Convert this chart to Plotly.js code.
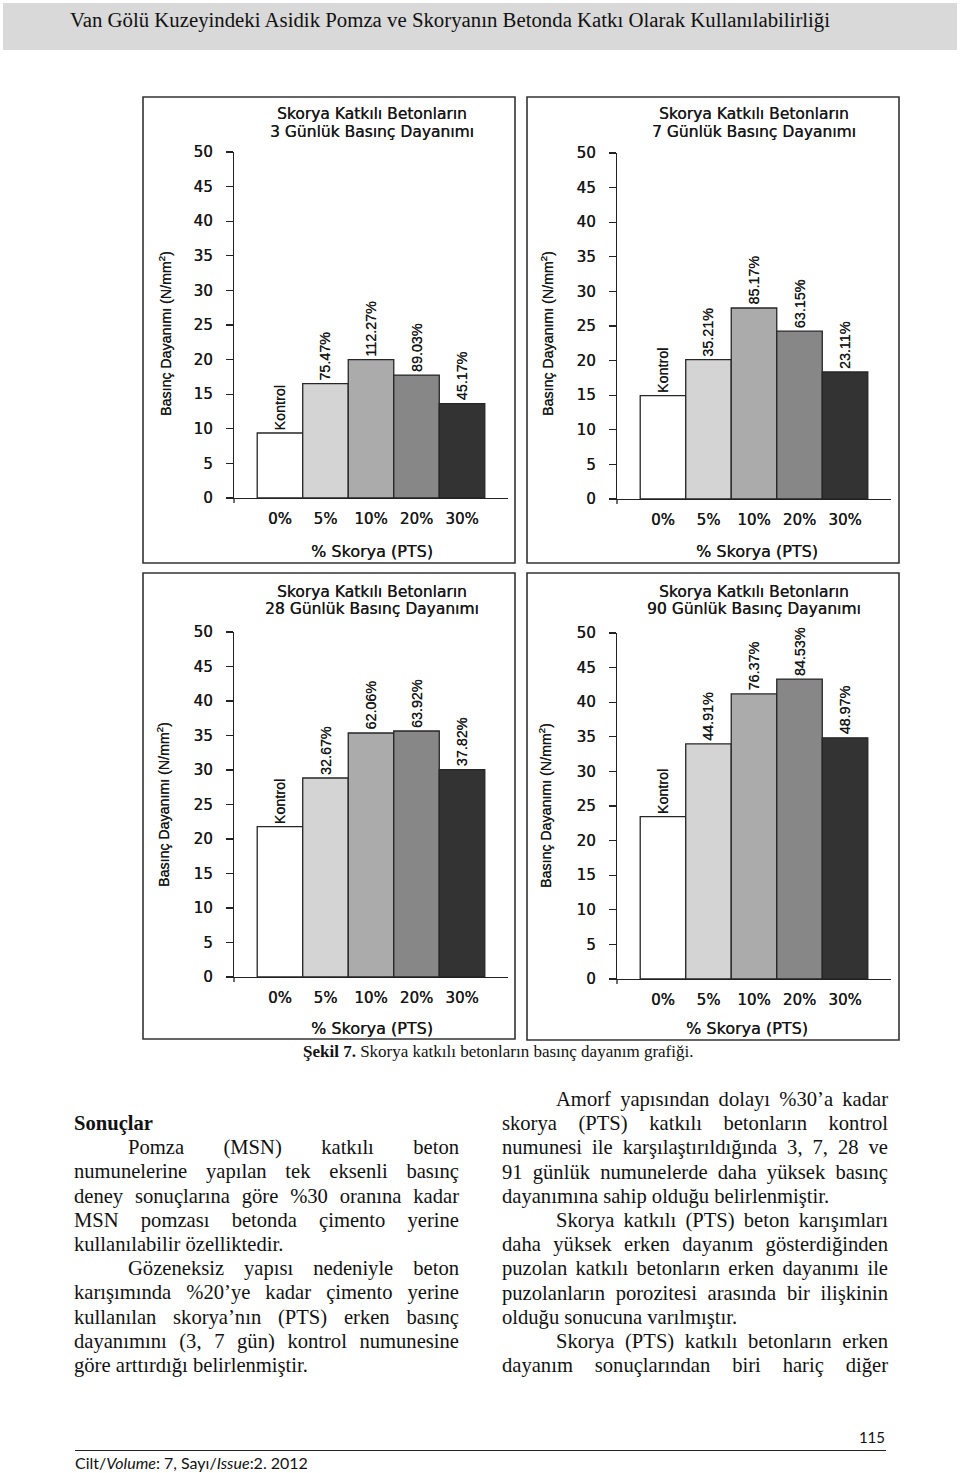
<!DOCTYPE html>
<html>
<head>
<meta charset="utf-8">
<script src="https://cdn.plot.ly/plotly-3.0.1.min.js"></script>
<style>
  html, body { margin:0; padding:0; background:#fff; }
  #page { position:relative; width:960px; height:1473px; overflow:hidden; background:#fff; }
  #plot { position:absolute; left:0; top:0; width:960px; height:1473px; }
  .abs { position:absolute; z-index:5; }
  .serif { font-family:"Liberation Serif","Times New Roman",serif; color:#111; }
  #header { left:3px; top:3px; width:954px; height:47px; background:#d9d9d9; z-index:1; }
  #headtext { left:0; top:7px; width:900px; text-align:center; font-size:20.8px; line-height:26px; }
  #caption { left:303px; top:1041px; font-size:17px; line-height:22px; white-space:nowrap; }
  .col { font-size:20.6px; line-height:24.2px; }
  .col div { white-space:nowrap; height:24.2px; }
  .col .j { text-align:justify; text-align-last:justify; white-space:normal; overflow:visible; }
  .col .ind { padding-left:54px; }
  #footer-num { right:75px; top:1428px; font-family:Lato,"Open Sans",sans-serif; font-size:15px; color:#111; }
  #footer-line { left:75px; top:1450px; width:811px; height:0; border-top:1.3px solid #222; }
  #footer-txt { left:75px; top:1453px; font-family:Lato,"Open Sans",sans-serif; font-size:16px; color:#111; white-space:nowrap; }
</style>
</head>
<body>
<div id="page">
  <div id="header" class="abs"></div>
  <div id="headtext" class="abs serif">Van Gölü Kuzeyindeki Asidik Pomza ve Skoryanın Betonda Katkı Olarak Kullanılabilirliği</div>
  <div id="plot"></div>
  <div id="caption" class="abs serif"><b>Şekil 7.</b> Skorya katkılı betonların basınç dayanım grafiği.</div>

  <div class="abs serif col" style="left:74px; top:1111px; width:385px;">
    <div><b>Sonuçlar</b></div>
    <div class="j ind">Pomza (MSN) katkılı beton</div>
    <div class="j">numunelerine yapılan tek eksenli basınç</div>
    <div class="j">deney sonuçlarına göre %30 oranına kadar</div>
    <div class="j">MSN pomzası betonda çimento yerine</div>
    <div>kullanılabilir özelliktedir.</div>
    <div class="j ind">Gözeneksiz yapısı nedeniyle beton</div>
    <div class="j">karışımında %20’ye kadar çimento yerine</div>
    <div class="j">kullanılan skorya’nın (PTS) erken basınç</div>
    <div class="j">dayanımını (3, 7 gün) kontrol numunesine</div>
    <div>göre arttırdığı belirlenmiştir.</div>
  </div>

  <div class="abs serif col" style="left:502px; top:1087px; width:386px;">
    <div class="j ind">Amorf yapısından dolayı %30’a kadar</div>
    <div class="j">skorya (PTS) katkılı betonların kontrol</div>
    <div class="j">numunesi ile karşılaştırıldığında 3, 7, 28 ve</div>
    <div class="j">91 günlük numunelerde daha yüksek basınç</div>
    <div>dayanımına sahip olduğu belirlenmiştir.</div>
    <div class="j ind">Skorya katkılı (PTS) beton karışımları</div>
    <div class="j">daha yüksek erken dayanım gösterdiğinden</div>
    <div class="j">puzolan katkılı betonların erken dayanımı ile</div>
    <div class="j">puzolanların porozitesi arasında bir ilişkinin</div>
    <div>olduğu sonucuna varılmıştır.</div>
    <div class="j ind">Skorya (PTS) katkılı betonların erken</div>
    <div class="j">dayanım sonuçlarından biri hariç diğer</div>
  </div>

  <div id="footer-num" class="abs">115</div>
  <div id="footer-line" class="abs"></div>
  <div id="footer-txt" class="abs">Cilt/<i>Volume</i>: 7, Sayı/<i>Issue</i>:2. 2012</div>
</div>

<script>
// ---------- data ----------
const categories = ['0%', '5%', '10%', '20%', '30%'];
const strength3  = [9.39, 16.52, 19.99, 17.77, 13.63];
const strength7  = [14.95, 20.13, 27.60, 24.25, 18.35];
const strength28 = [21.78, 28.84, 35.36, 35.65, 30.05];
const strength90 = [23.46, 33.98, 41.20, 43.34, 34.85];
const labels3  = ['Kontrol', '75.47%', '112.27%', '89.03%', '45.17%'];
const labels7  = ['Kontrol', '35.21%', '85.17%', '63.15%', '23.11%'];
const labels28 = ['Kontrol', '32.67%', '62.06%', '63.92%', '37.82%'];
const labels90 = ['Kontrol', '44.91%', '76.37%', '84.53%', '48.97%'];
const titleLine1 = 'Skorya Katkılı Betonların';
const titleLine2 = ['3 Günlük Basınç Dayanımı', '7 Günlük Basınç Dayanımı', '28 Günlük Basınç Dayanımı', '90 Günlük Basınç Dayanımı'];
const xTitle = '% Skorya (PTS)';
const yTitle = 'Basınç Dayanımı (N/mm<sup>2</sup>)';

// keep justified body lines on one line each
document.querySelectorAll('.col .j').forEach(el => {
  let ls = 0;
  while (el.scrollHeight > 30 && ls > -1.5) { ls -= 0.1; el.style.letterSpacing = ls.toFixed(2) + 'px'; }
});

// font detection for condensed rotated labels
function hasFont(name) {
  const c = document.createElement('canvas').getContext('2d');
  const s = '112.27% Kontrol Basınç Dayanımı';
  c.font = '40px monospace';
  const a = c.measureText(s).width;
  c.font = '40px "' + name + '", monospace';
  return Math.abs(c.measureText(s).width - a) > 0.5;
}
const hasNarrow = hasFont('Liberation Sans Narrow');

// ---------- layout helpers ----------
const W = 960, H = 1473;
const fx = p => p / W;
const fy = p => 1 - p / H;
const barColors = ['#ffffff', '#d4d4d4', '#ababab', '#878787', '#333333'];
const ink = '#151515';
const heavy = '0.3px 0 0 #333';
const wide = 'DejaVu Sans, Liberation Sans, Arial, sans-serif';
const labelFont = hasNarrow ? {family: 'Liberation Sans Narrow', size: 16.5, color: ink, shadow: heavy}
                            : {family: 'Liberation Sans, Arial, sans-serif', size: 14.3, color: ink, shadow: heavy};
const yTitleFont = hasNarrow ? {family: 'Liberation Sans Narrow', size: 17, color: ink, shadow: heavy}
                             : {family: 'Liberation Sans, Arial, sans-serif', size: 14.2, color: ink, shadow: heavy};
const tickFont = {size: 15, family: wide, color: ink, shadow: heavy};
const titleFont = {size: 15.5, family: wide, color: ink, shadow: heavy};
const xTitleFont = {size: 16, family: wide, color: ink, shadow: heavy};

const series = [strength3, strength7, strength28, strength90];
const labels = [labels3, labels7, labels28, labels90];

// panel geometry (pixels)
const panels = [
  {box:[143, 97, 515, 563],  xd:[234, 508], yd:[498, 152], t1:114, t2:132, tx:372, xt:[372, 551],  yt:[165, 334]},
  {box:[527, 97, 899, 563],  xd:[617, 891], yd:[499, 153], t1:114, t2:132, tx:754, xt:[757, 552],  yt:[547, 334]},
  {box:[143, 573, 515, 1039],xd:[234, 508], yd:[977, 632], t1:592, t2:609, tx:372, xt:[372, 1028], yt:[163, 805]},
  {box:[527, 573, 899, 1040],xd:[617, 891], yd:[979, 633], t1:592, t2:609, tx:754, xt:[747, 1028], yt:[545, 806]}
];

const data = [];
const layout = {
  width: W, height: H,
  margin: {l:0, r:0, t:0, b:0, pad:0},
  paper_bgcolor: 'rgba(0,0,0,0)',
  plot_bgcolor: 'rgba(0,0,0,0)',
  showlegend: false,
  bargap: 0,
  font: {family: wide, color: ink, size: 15},
  annotations: [],
  shapes: []
};

panels.forEach((p, i) => {
  const n = i === 0 ? '' : String(i + 1);
  const xa = 'x' + n, ya = 'y' + n;
  data.push({
    type: 'bar',
    x: categories.map((c, k) => k),
    y: series[i],
    width: 1,
    xaxis: xa, yaxis: ya,
    marker: {color: barColors, line: {color: '#262626', width: 1.3}},
    hoverinfo: 'skip',
    cliponaxis: false
  });
  layout['xaxis' + n] = {
    domain: [fx(p.xd[0]), fx(p.xd[1])],
    anchor: ya,
    range: [-1.01, 5.01],
    tickmode: 'array',
    tickvals: categories.map((c, k) => k),
    ticktext: categories,
    ticks: '',
    ticklabelstandoff: 7,
    tickfont: tickFont,
    showline: true, linecolor: '#222', linewidth: 1.3,
    showgrid: false, zeroline: false, fixedrange: true
  };
  layout['yaxis' + n] = {
    domain: [fy(p.yd[0]), fy(p.yd[1])],
    anchor: xa,
    range: [0, 50],
    tick0: 0, dtick: 5,
    ticks: 'outside', ticklen: 7, tickwidth: 1.3, tickcolor: '#222',
    ticklabelstandoff: 10,
    tickfont: tickFont,
    showline: true, linecolor: '#222', linewidth: 1.3,
    showgrid: false, zeroline: false, fixedrange: true
  };
  // panel border
  layout.shapes.push({type: 'rect', xref: 'paper', yref: 'paper',
    x0: fx(p.box[0]), x1: fx(p.box[2]), y0: fy(p.box[3]), y1: fy(p.box[1]),
    line: {color: '#333', width: 1.6}, fillcolor: 'rgba(0,0,0,0)'});
  // small tick at left end of x axis
  layout.shapes.push({type: 'line', xref: 'paper', yref: 'paper',
    x0: fx(p.xd[0]), x1: fx(p.xd[0]), y0: fy(p.yd[0]), y1: fy(p.yd[0] + 5),
    line: {color: '#222', width: 1.3}});
  // titles
  layout.annotations.push({xref: 'paper', yref: 'paper', x: fx(p.tx), y: fy(p.t1),
    text: titleLine1, showarrow: false, xanchor: 'center', yanchor: 'middle', borderpad: 0,
    font: titleFont});
  layout.annotations.push({xref: 'paper', yref: 'paper', x: fx(p.tx), y: fy(p.t2),
    text: titleLine2[i], showarrow: false, xanchor: 'center', yanchor: 'middle', borderpad: 0,
    font: titleFont});
  // axis titles
  layout.annotations.push({xref: 'paper', yref: 'paper', x: fx(p.xt[0]), y: fy(p.xt[1]),
    text: xTitle, showarrow: false, xanchor: 'center', yanchor: 'middle',
    font: xTitleFont});
  layout.annotations.push({xref: 'paper', yref: 'paper', x: fx(p.yt[0]), y: fy(p.yt[1]),
    text: yTitle, showarrow: false, xanchor: 'center', yanchor: 'middle', textangle: -90,
    font: yTitleFont});
  // rotated bar labels
  labels[i].forEach((lab, k) => {
    layout.annotations.push({xref: xa, yref: ya, x: k, y: series[i][k],
      text: lab, showarrow: false, textangle: -90,
      xanchor: 'center', yanchor: 'bottom', yshift: 1,
      font: labelFont});
  });
});

Plotly.newPlot('plot', data, layout, {staticPlot: true, displayModeBar: false});
</script>
</body>
</html>
